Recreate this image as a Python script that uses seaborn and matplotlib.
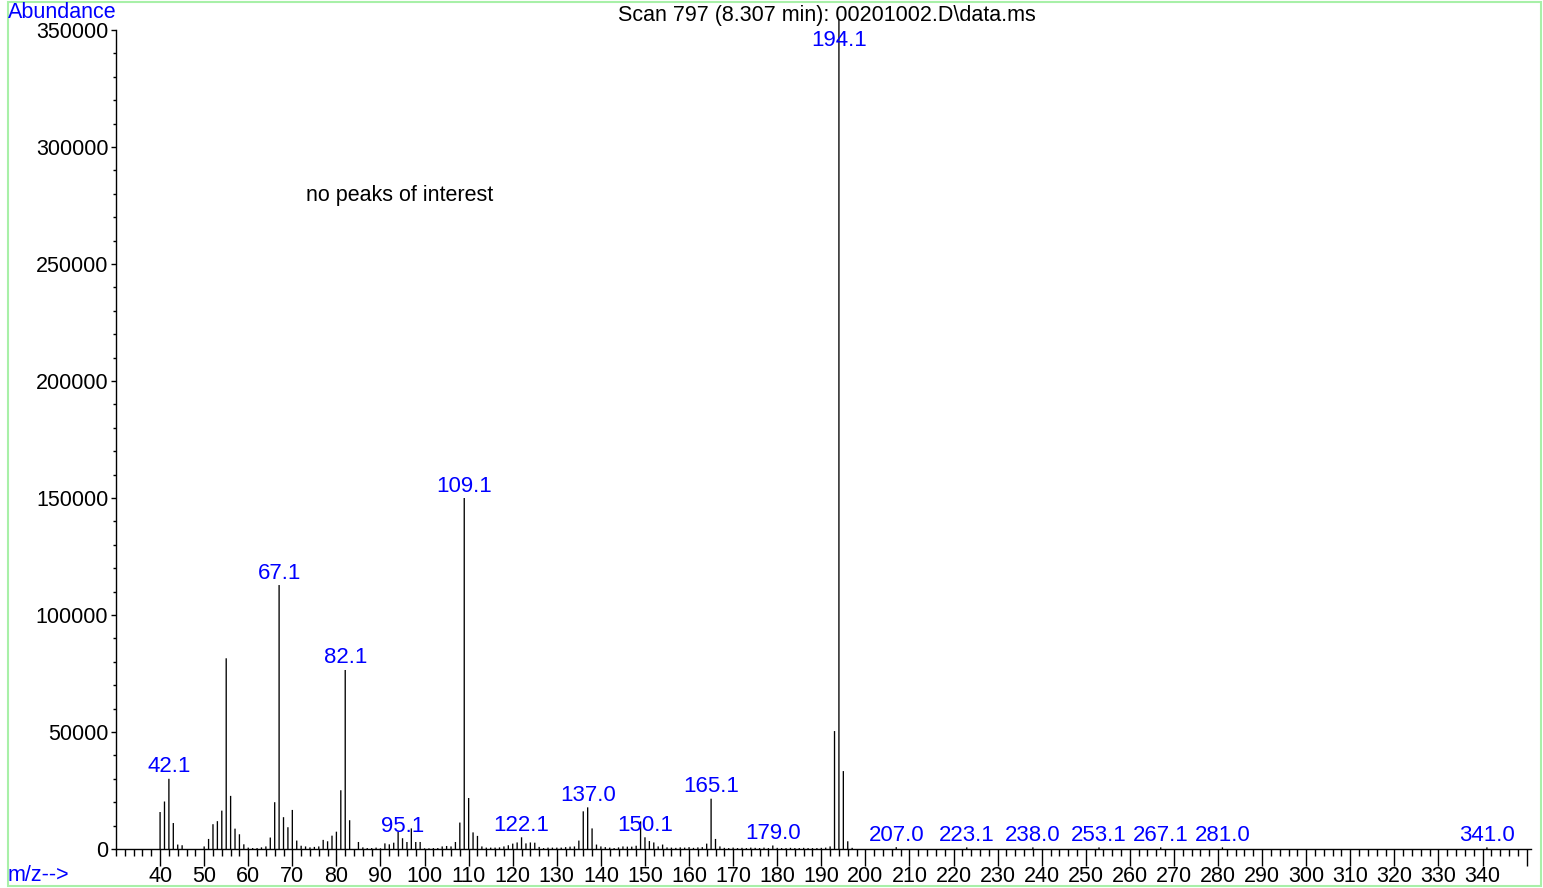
import numpy as np
import pandas as pd
import matplotlib
matplotlib.use('Agg')
import matplotlib.pyplot as plt
import seaborn as sns
from matplotlib.patches import Rectangle
from matplotlib.ticker import MultipleLocator

# mass spectrum (m/z, abundance)
mz = [40, 41, 42, 43, 44, 45, 50, 51, 52, 53, 54, 55, 56, 57, 58, 59,
      60, 61, 62, 63, 64, 65, 66, 67, 68, 69, 70, 71, 72, 73, 74, 75,
      76, 77, 78, 79, 80, 81, 82, 83, 85, 86, 87, 88, 89, 90, 91, 92,
      93, 94, 95, 96, 97, 98, 99, 100, 101, 102, 103, 104, 105, 106, 107, 108,
      109, 110, 111, 112, 113, 114, 115, 116, 117, 118, 119, 120, 121, 122, 123, 124,
      125, 126, 127, 128, 129, 130, 131, 132, 133, 134, 135, 136, 137, 138, 139, 140,
      141, 142, 143, 144, 145, 146, 147, 148, 149, 150, 151, 152, 153, 154, 155, 156,
      157, 158, 159, 160, 161, 162, 163, 164, 165, 166, 167, 168, 169, 170, 171, 172,
      173, 174, 175, 176, 177, 178, 179, 180, 181, 182, 183, 184, 185, 186, 187, 188,
      189, 190, 191, 192, 193, 194, 195, 196, 197, 207, 223, 238, 253, 267, 281, 341]
abundance = [15800, 20300, 30000, 11100, 1900, 1600, 1100, 4300, 10600, 11900, 16400, 81500, 22700, 8700, 6300, 2000,
             600, 400, 400, 700, 1100, 4900, 20000, 112800, 13600, 9300, 16700, 3600, 1400, 1100, 700, 900,
             1100, 3900, 3300, 5700, 7400, 25100, 76500, 12300, 3000, 700, 400, 400, 600, 300, 2400, 2000,
             2700, 7400, 4600, 3000, 8800, 3000, 3000, 300, 300, 400, 400, 1100, 1300, 1100, 3000, 11300,
             150000, 21800, 7100, 5600, 1100, 600, 600, 600, 700, 1100, 1600, 2300, 2800, 5000, 2400, 2800,
             2700, 900, 400, 600, 600, 600, 600, 800, 1000, 1100, 3600, 16100, 17800, 8800, 1900, 1100,
             800, 600, 400, 700, 1100, 1000, 1000, 1400, 11800, 5000, 3400, 2800, 1100, 1900, 700, 600,
             500, 700, 600, 800, 500, 700, 800, 2300, 21500, 4300, 1100, 500, 400, 600, 400, 500,
             400, 600, 500, 400, 600, 400, 1500, 500, 400, 400, 500, 400, 400, 500, 400, 400,
             400, 500, 600, 1100, 50400, 360000, 33300, 3300, 500, 800, 700, 700, 700, 700, 700, 700]

peak_mz = [42, 67, 82, 95, 109, 122, 137, 150, 165, 179, 194, 207, 223, 238, 253, 267, 281, 341]
peak_labels = ['42.1', '67.1', '82.1', '95.1', '109.1', '122.1', '137.0', '150.1', '165.1',
               '179.0', '194.1', '207.0', '223.1', '238.0', '253.1', '267.1', '281.0', '341.0']

x_ticks = list(range(40, 351, 10))
x_ticklabels = [str(v) for v in range(40, 341, 10)] + ['']
y_ticks = list(range(0, 350001, 50000))
y_ticklabels = [str(v) for v in y_ticks]

sns.set_style('ticks')
plt.rcParams['font.family'] = ['Liberation Sans', 'DejaVu Sans']

W, H = 1543, 888
fig = plt.figure(figsize=(W / 100, H / 100), dpi=100)
ax = fig.add_axes([116 / W, 39 / H, (1531 - 116) / W, (H - 20 - 39) / H])

df = pd.DataFrame({'mz': mz, 'abundance': abundance})
sns.barplot(data=df, x='mz', y='abundance', native_scale=True, orient='x',
            width=0.3, color='black', saturation=1, linewidth=0,
            errorbar=None, ax=ax)
# no pixel snapping, so every stick comes out the same thin width
for p in ax.patches:
    p.set_snap(False)

ymax = 350000 + 10 * 350000 / 819
ax.set_xlim(30, 351)
ax.set_ylim(0, ymax)
ax.set_xlabel('')
ax.set_ylabel('')

for s in ['top', 'right']:
    ax.spines[s].set_visible(False)
ax.spines['left'].set_bounds(0, 350000)
for s in ['left', 'bottom']:
    ax.spines[s].set_linewidth(1)
    ax.spines[s].set_color('black')

ax.set_xticks(x_ticks)
ax.set_xticklabels(x_ticklabels)
ax.xaxis.set_minor_locator(MultipleLocator(2))
ax.set_yticks(y_ticks)
ax.set_yticklabels(y_ticklabels)
ax.yaxis.set_minor_locator(MultipleLocator(10000))
ax.tick_params(axis='x', which='major', length=12, width=1, labelsize=15.5, pad=0.5, colors='black')
ax.tick_params(axis='x', which='minor', length=5, width=1, colors='black')
ax.tick_params(axis='y', which='major', length=3.5, width=1, labelsize=15.5, pad=2, colors='black')
ax.tick_params(axis='y', which='minor', length=2.5, width=1, colors='black')

# peak labels sit a couple of pixels above the stick, base peak clamped at the top
ab = dict(zip(mz, abundance))
off = 1.5 * 350000 / 819
for m, t in zip(peak_mz, peak_labels):
    y = min(ab[m] + off, 341000)
    ax.text(m, y, t, ha='center', va='bottom', color='#0000ff', fontsize=16)

fig.text(8 / W, 1 - 13 / H, 'Abundance', color='#0000ff', fontsize=15.5, va='center', ha='left')
fig.text(8 / W, 1 - 875 / H, 'm/z-->', color='#0000ff', fontsize=15.5, va='center', ha='left')
fig.text(827 / W, 1 - 15 / H, 'Scan 797 (8.307 min): 00201002.D\\data.ms', color='black',
         fontsize=15.5, va='center', ha='center')
fig.text(306 / W, 1 - 195 / H, 'no peaks of interest', color='black', fontsize=15.5,
         va='center', ha='left')

fig.patches.append(Rectangle((8 / W, 2 / H), (1541 - 8) / W, (886 - 2) / H,
                             transform=fig.transFigure, fill=False,
                             edgecolor='#a8f0a8', linewidth=1.5))

fig.savefig('out.png', dpi=100)
